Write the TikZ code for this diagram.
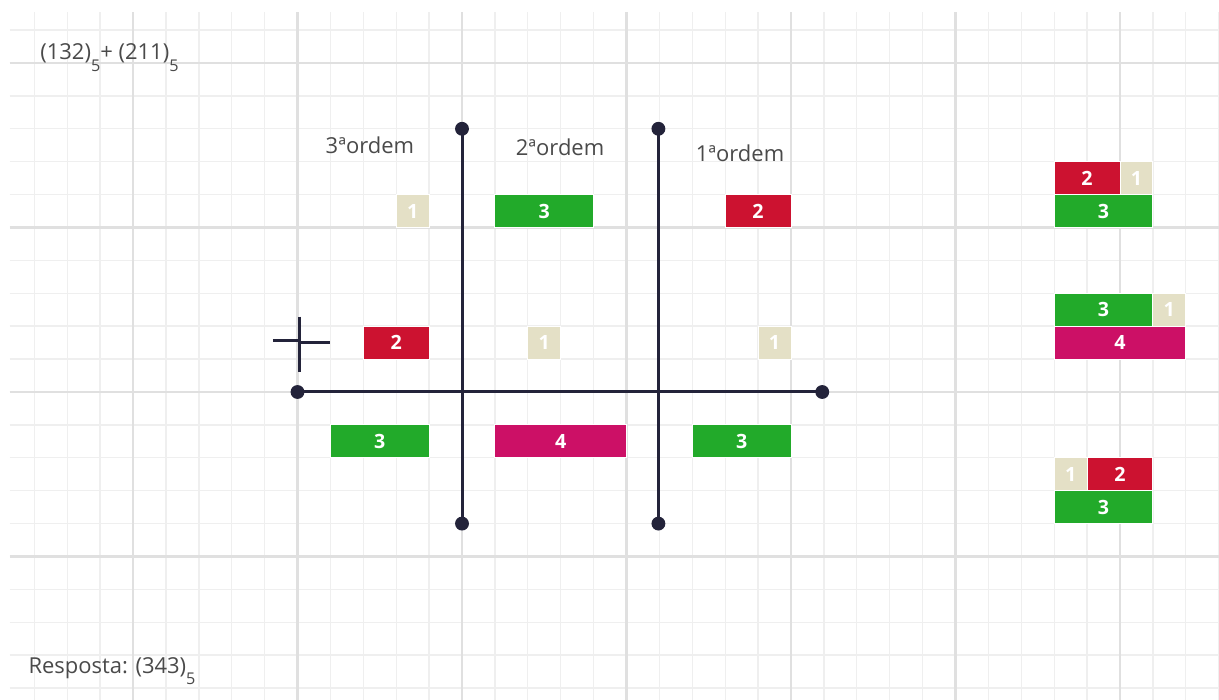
\documentclass[tikz,border=0pt]{standalone}
\usepackage{fontspec}
\setmainfont{Open Sans}
\usepackage{xcolor}
\usetikzlibrary{positioning}
\definecolor{gridminor}{HTML}{EFEFEF}
\definecolor{gridmajor}{HTML}{E0E0E0}
\definecolor{axisnavy}{HTML}{23233A}
\definecolor{blockred}{HTML}{CC1230}
\definecolor{blockgreen}{HTML}{22AA2A}
\definecolor{blockpink}{HTML}{CC1066}
\definecolor{blockcream}{HTML}{E4E0C6}
\definecolor{labelgray}{HTML}{4A4A4A}
\newcommand{\subfive}{\raisebox{-5pt}{\fontsize{7}{8}\selectfont 5}}
\tikzset{
  minorline/.style={draw=gridminor, line width=0.6pt},
  majorline/.style={draw=gridmajor, line width=1pt},
  axisline/.style={draw=axisnavy, line width=1.3pt},
  axisdot/.style={
    circle, fill=axisnavy, inner sep=0pt, minimum size=6pt
  },
  ordemlabel/.style={
    font=\fontsize{9.5}{11}\selectfont, text=labelgray
  },
  notelabel/.style={
    font=\fontsize{9.5}{11}\selectfont, text=labelgray,
    anchor=base west, inner sep=0pt
  },
  block/.style={
    draw=white, line width=0.4pt, inner sep=0pt,
    minimum height=0.5cm, text=white,
    font=\bfseries\fontsize{8.5}{9}\selectfont
  },
  oneblock/.style={block, fill=blockcream, minimum width=0.5cm},
  twoblock/.style={block, fill=blockred, minimum width=1cm},
  threeblock/.style={block, fill=blockgreen, minimum width=1.5cm},
  fourblock/.style={block, fill=blockpink, minimum width=2cm},
}

\begin{document}
\begin{tikzpicture}[x=0.5cm, y=0.5cm]
  \useasboundingbox[fill=white] (-14.043,-9.362) rectangle (23.009,11.915);

  % Squared paper
  \foreach \x in {-13,...,23}
    \draw[minorline] (\x,-9.362) -- (\x,11.55);
  \foreach \y in {-9,...,11}
    \draw[minorline] (-13.74,\y) -- (23.009,\y);
  \foreach \x in {-10,-5,...,20}
    \draw[majorline] (\x,-9.362) -- (\x,11.55);
  \foreach \y in {-5,0,5,10}
    \draw[majorline] (-13.74,\y) -- (23.009,\y);

  % Place-value board
  \node[axisdot] (hleft)  at (-5,0) {};
  \node[axisdot] (hright) at (10.95,0) {};
  \node[axisdot] (atop)   at (0,8) {};
  \node[axisdot] (abot)   at (0,-4) {};
  \node[axisdot] (btop)   at (5.97,8) {};
  \node[axisdot] (bbot)   at (5.97,-4) {};
  \draw[axisline] (hleft.center) -- (hright.center);
  \draw[axisline] (atop.center) -- (abot.center);
  \draw[axisline] (btop.center) -- (bbot.center);

  \node[ordemlabel] (ord3) at (-2.8,7.5)  {3ªordem};
  \node[ordemlabel] (ord2) at (2.98,7.45) {2ªordem};
  \node[ordemlabel] (ord1) at (8.45,7.25) {1ªordem};

  % Carry row
  \node[oneblock]   (c3) at (-1.5,5.5) {1};
  \node[threeblock] (c2) at (2.5,5.5)  {3};
  \node[twoblock]   (c1) at (9,5.5)    {2};
  % First number
  \node[twoblock]   (p3) at (-2,1.5)   {2};
  \node[oneblock]   (p2) at (2.5,1.5)  {1};
  \node[oneblock]   (p1) at (9.5,1.5)  {1};
  % Result
  \node[threeblock] (r3) at (-2.5,-1.5) {3};
  \node[fourblock]  (r2) at (3,-1.5)    {4};
  \node[threeblock] (r1) at (8.5,-1.5)  {3};

  % Cursor mark
  \draw[axisline] (-4.95,2.29) -- (-4.95,0.62);
  \draw[axisline] (-5.75,1.56) -- (-4.95,1.56);
  \draw[axisline] (-4.95,1.5) -- (-4.0,1.5);

  % Sums on the side
  \node[twoblock]   (s1a) at (19,6.5)   {2};
  \node[oneblock]   (s1b) at (20.5,6.5) {1};
  \node[threeblock] (s1c) at (19.5,5.5) {3};

  \node[threeblock] (s2a) at (19.5,2.5) {3};
  \node[oneblock]   (s2b) at (21.5,2.5) {1};
  \node[fourblock]  (s2c) at (20,1.5)   {4};

  \node[oneblock]   (s3a) at (18.5,-2.5) {1};
  \node[twoblock]   (s3b) at (20,-2.5)   {2};
  \node[threeblock] (s3c) at (19.5,-3.5) {3};

  % Notes
  \node[notelabel] (task)   at (-12.83,10.1) {(132)\subfive+ (211)\subfive};
  \node[notelabel] (answer) at (-13.19,-8.55) {Resposta: (343)\subfive};
\end{tikzpicture}
\end{document}
